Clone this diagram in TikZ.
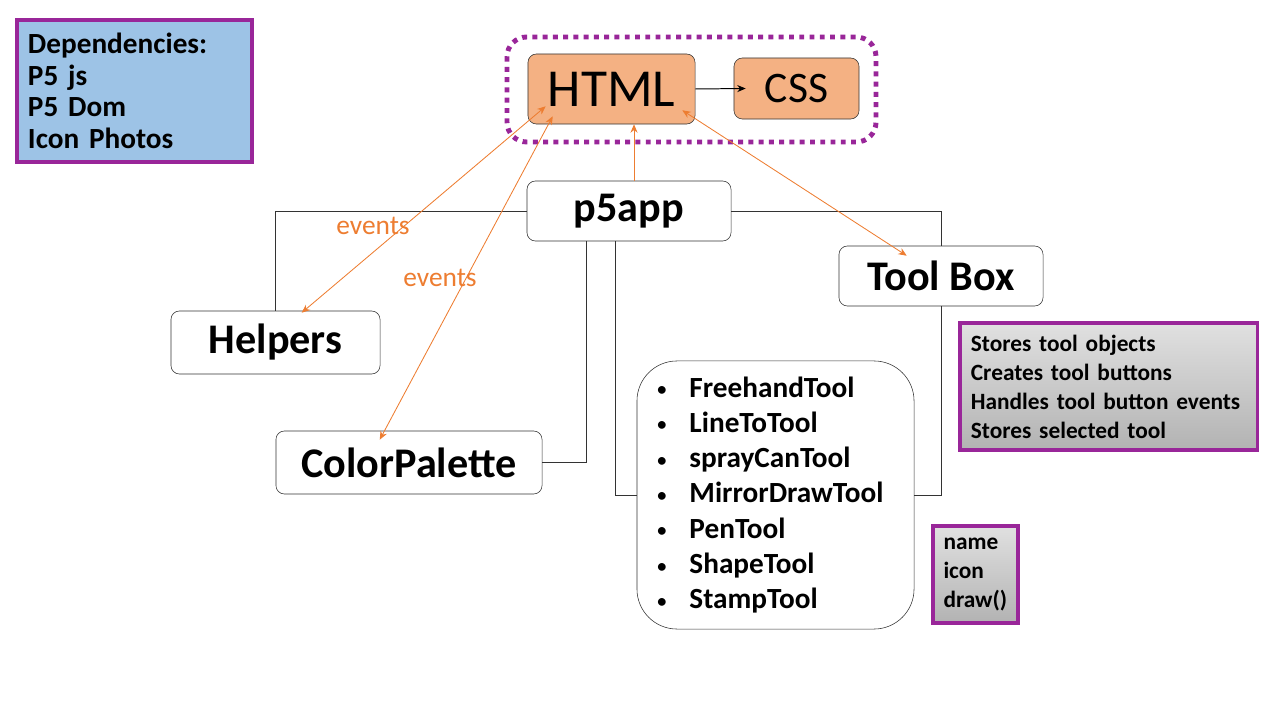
\documentclass[tikz,border=0pt]{standalone}
\usepackage{fontspec}
\setmainfont{Carlito}
\usetikzlibrary{arrows.meta}
\definecolor{plum}{RGB}{153,38,153}
\definecolor{skyfill}{RGB}{157,195,230}
\definecolor{peach}{RGB}{244,177,131}
\definecolor{evtorange}{RGB}{237,125,49}
\newcommand{\toolitem}[1]{\makebox[0.8cm][l]{\raisebox{0.1ex}{\fontsize{13}{13}\selectfont•}}#1}
\begin{document}
\begin{tikzpicture}[x=0.025cm, y=-0.025cm,
    every node/.style={font=\bfseries, align=left},
    classbox/.style={draw=black!80, fill=white, rounded corners=6pt, inner sep=0pt, font=\bfseries\fontsize{30}{36}\selectfont},
    webbox/.style={draw=black!80, fill=peach, rounded corners=6pt, inner sep=0pt},
    notebox/.style={draw=plum, line width=2.2pt, top color=black!12, bottom color=black!30, inner xsep=0.27cm, font=\bfseries\fontsize{16.6}{20.6}\selectfont},
    link/.style={draw=black!80, line width=0.7pt},
    evtline/.style={draw=evtorange, line width=0.6pt},
    evt/.style={evtline, {Stealth[length=6pt,width=5pt]}-{Stealth[length=6pt,width=5pt]}}]
    \useasboundingbox (0,0) rectangle (1280,720);
    % dependencies
    \node[draw=plum, line width=2.2pt, fill=skyfill, minimum width=5.875cm, minimum height=3.55cm, text width=5.325cm,
          font=\bfseries\fontsize{20.8}{22.4}\selectfont] (deps) at (134.5,91) {Dependencies:\\P5 js\\P5 Dom\\Icon Photos};
    % web page
    \draw[plum, line width=3.5pt, dash pattern=on 3.5pt off 3.8pt, rounded corners=14pt] (507,37) rectangle (876,142);
    \node[webbox, minimum width=4.175cm, minimum height=1.75cm, font=\fontsize{38}{44}\selectfont] (html) at (611.5,89) {HTML};
    \node[webbox, minimum width=3.125cm, minimum height=1.525cm, font=\fontsize{31}{36}\selectfont] (css) at (796.5,88.5) {CSS};
    \draw[line width=0.7pt, -{Stealth[length=6pt,width=5pt]}] (html.east) -- ([xshift=0.3cm]css.west);
    % classes
    \node[classbox, minimum width=5.1cm, minimum height=1.5cm] (p5app) at (629,211) {p5app};
    \node[classbox, minimum width=5.1cm, minimum height=1.5cm] (toolbox) at (941,276) {Tool Box};
    \node[classbox, minimum width=5.225cm, minimum height=1.575cm] (helpers) at (275.5,342.5) {Helpers};
    \node[classbox, minimum width=6.65cm, minimum height=1.575cm] (palette) at (409,462.5) {ColorPalette};
    \node[draw=black!80, fill=white, rounded corners=1cm, minimum width=6.925cm, minimum height=6.7cm, text width=5.9cm,
          font=\bfseries\fontsize{20.8}{25.1}\selectfont] (tools) at (775.5,495)
        {\toolitem{FreehandTool}\\\toolitem{LineToTool}\\\toolitem{sprayCanTool}\\\toolitem{MirrorDrawTool}\\
         \toolitem{PenTool}\\\toolitem{ShapeTool}\\\toolitem{StampTool}};
    % notes
    \node[notebox, minimum width=7.425cm, minimum height=3.175cm, text width=6.88cm] (notes) at (1108.5,386.5)
        {Stores tool objects\\Creates tool buttons\\Handles tool button events\\Stores selected tool};
    \node[notebox, minimum width=2.125cm, minimum height=2.425cm, inner xsep=0.25cm, text width=1.6cm] (attrs) at (975.5,574.5)
        {name\\icon\\draw()};
    % connectors
    \draw[link] (p5app.west) -| (helpers.north);
    \draw[link] (p5app.east) -| (toolbox.north);
    \draw[link] (toolbox.south) |- (tools.east);
    \draw[link] ([xshift=-1.075cm]p5app.south) |- (palette.east);
    \draw[link] ([xshift=-0.35cm]p5app.south) |- (tools.west);
    % events
    \draw[evt] ([xshift=0.45cm,yshift=0.45cm]html.south west) -- ([xshift=3.275cm,yshift=-0.05cm]helpers.north west);
    \draw[evt] ([xshift=0.625cm,yshift=0.2cm]html.south west) -- ([xshift=2.6cm,yshift=-0.225cm]palette.north west);
    \draw[evtline, -{Stealth[length=6pt,width=5pt]}] ([xshift=0.125cm]p5app.north) -- ([xshift=0.125cm]p5app.north |- html.south);
    \draw[evt] ([xshift=-0.325cm,yshift=0.35cm]html.south east) -- ([xshift=1.7cm,yshift=-0.25cm]toolbox.north west);
    \node[font=\fontsize{19.5}{22}\selectfont, text=evtorange] (ev1) at (373,226) {events};
    \node[font=\fontsize{19.5}{22}\selectfont, text=evtorange] (ev2) at (440,278) {events};
\end{tikzpicture}
\end{document}
